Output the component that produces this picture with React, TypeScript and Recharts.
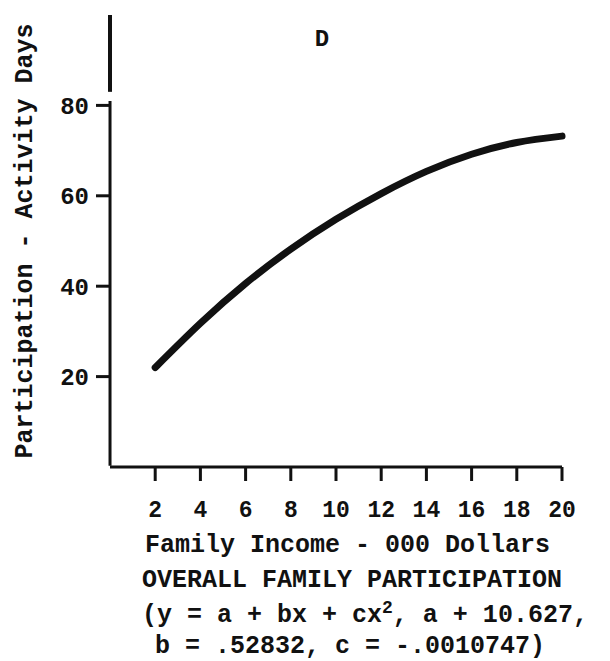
import { LineChart, Line, XAxis, YAxis, ReferenceLine } from 'recharts';

const incomeValues = [2, 4, 6, 8, 10, 12, 14, 16, 18, 20];
const participationValues = [22, 31.8, 40.6, 48.2, 54.8, 60.5, 65.4, 69.2, 71.8, 73.2];
const xTicks = [2, 4, 6, 8, 10, 12, 14, 16, 18, 20];
const yTicks = [20, 40, 60, 80];

const data = incomeValues.map((x, i) => ({ x, y: participationValues[i] }));

const FONT = '"Liberation Mono", "Courier New", monospace';
const INK = '#111';

const BottomText = (props: any) => {
  const { viewBox } = props;
  const top = viewBox?.y ?? 467;
  return (
    <g fontFamily={FONT} fontWeight="bold" fontSize={25} fill={INK}>
      <text x={145} y={top + 85}>Family Income - 000 Dollars</text>
      <text x={142} y={top + 120}>OVERALL FAMILY PARTICIPATION</text>
      <text x={142} y={top + 155}>
        (y = a + bx + cx
        <tspan dy={-9} fontSize={18}>2</tspan>
        <tspan dy={9}>, a + 10.627,</tspan>
      </text>
      <text x={155} y={top + 186}>b = .52832, c = -.0010747)</text>
    </g>
  );
};

export default function App() {
  return (
    <div style={{ position: 'absolute', left: 0, top: 0, background: '#fff' }}>
      <LineChart
        width={610}
        height={661}
        data={data}
        margin={{ top: 15, right: 48, bottom: 0, left: 0 }}
      >
        <XAxis
          dataKey="x"
          type="number"
          domain={[0, 20]}
          ticks={xTicks}
          height={194}
          tickSize={14}
          tickMargin={20}
          axisLine={{ stroke: INK, strokeWidth: 3 }}
          tickLine={{ stroke: INK, strokeWidth: 3 }}
          tick={{ fill: INK, fontFamily: FONT, fontWeight: 'bold', fontSize: 23 }}
          label={<BottomText />}
        />
        <YAxis
          type="number"
          domain={[0, 100]}
          ticks={yTicks}
          width={110}
          tickSize={14}
          tickMargin={7}
          axisLine={false}
          tickLine={{ stroke: INK, strokeWidth: 3 }}
          tick={{ fill: INK, fontFamily: FONT, fontWeight: 'bold', fontSize: 24 }}
          label={{
            value: 'Participation - Activity Days',
            angle: -90,
            position: 'insideLeft',
            dx: 18,
            dy: 0,
            style: { fill: INK, fontFamily: FONT, fontWeight: 'bold', fontSize: 25, textAnchor: 'middle' },
          }}
        />
        <ReferenceLine
          segment={[{ x: 0.001, y: 0.3 }, { x: 0.001, y: 81 }]}
          stroke={INK}
          strokeWidth={3}
          ifOverflow="visible"
        />
        <ReferenceLine
          segment={[{ x: 0.001, y: 83 }, { x: 0.001, y: 100 }]}
          stroke={INK}
          strokeWidth={4}
          ifOverflow="visible"
          label={{ value: 'D', position: 'top', dx: 212, dy: 36, fill: INK, fontFamily: FONT, fontWeight: 'bold', fontSize: 24 }}
        />
        <Line
          dataKey="y"
          type="natural"
          stroke={INK}
          strokeWidth={7}
          strokeLinecap="round"
          dot={false}
          isAnimationActive={false}
        />
      </LineChart>
    </div>
  );
}
